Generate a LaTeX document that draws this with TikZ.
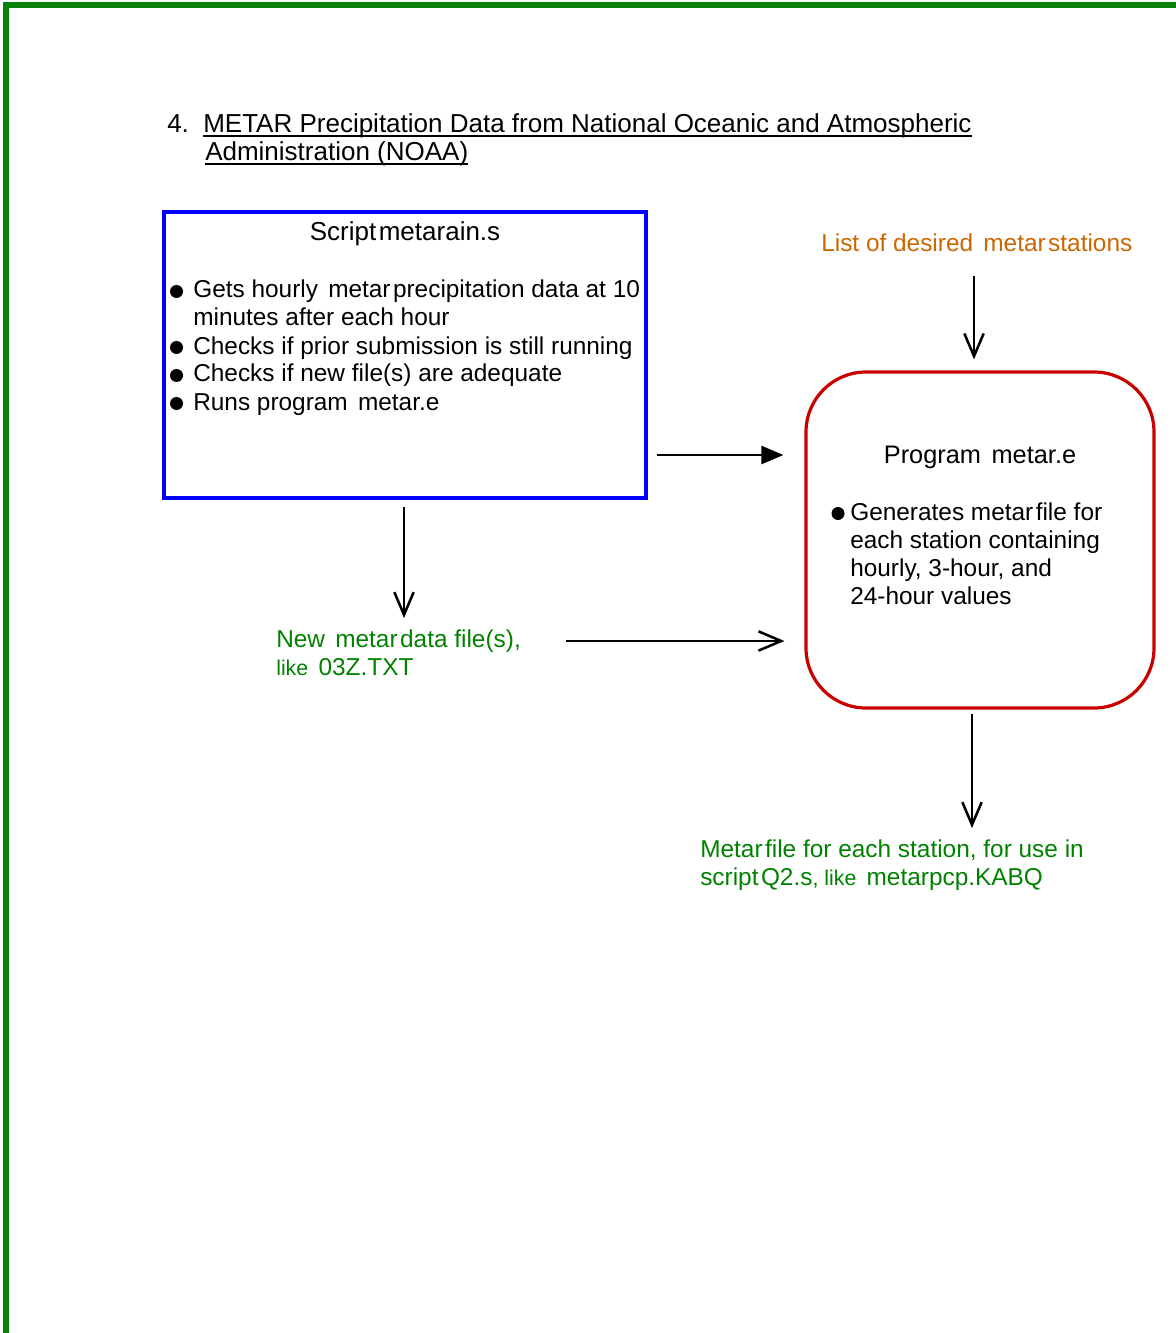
\documentclass[tikz,border=0pt]{standalone}
\usepackage{fontspec}
\setmainfont{Liberation Sans}
\usetikzlibrary{arrows.meta,calc}
\definecolor{framegreen}{RGB}{10,128,10}
\definecolor{txtgreen}{RGB}{0,130,0}
\definecolor{boxblue}{RGB}{0,0,255}
\definecolor{boxred}{RGB}{200,0,0}
\definecolor{listorange}{RGB}{204,102,0}
\newcommand{\tsp}{\hspace{0.1em}}
\newcommand{\wsp}{\hspace{0.42em}}
\begin{document}
\begin{tikzpicture}[x=0.75pt,y=-0.75pt,
  txt/.style={inner sep=0pt, anchor=base west, font=\fontsize{18.3pt}{21pt}\selectfont},
  ttl/.style={inner sep=0pt, anchor=base west, font=\fontsize{19.5pt}{21pt}\selectfont},
  gtxt/.style={txt, text=txtgreen},
  bul/.style={fill=black},
  uline/.style={line width=0.9pt},
  fatarrow/.style={line width=1.9pt, -{Triangle[length=16.5pt,width=13.5pt]}},
  openarrow/.style={line width=1.9pt, -{Straight Barb[length=17pt,width=14.5pt,line width=1.9pt]}},
  scriptbox/.style={draw=boxblue, line width=2.5pt, minimum width=361.5pt, minimum height=214.5pt, inner sep=0pt},
  progbox/.style={draw=boxred, line width=2.4pt, rounded corners=45pt, minimum width=261pt, minimum height=252pt, inner sep=0pt}]
\useasboundingbox (0,0) rectangle (1175,1333);
\fill[white] (0,0) rectangle (1175,1333);
% frame
\draw[framegreen, line width=4.6pt] (6,1345) -- (6,5) -- (1190,5);
% title
\node[ttl] (num) at (167,133) {4.};
\node[ttl] (t1) at (203,133) {METAR Precipitation Data from National Oceanic and Atmospheric};
\node[ttl] (t2) at (205,161) {Administration (NOAA)};
\draw[uline] ($(t1.base west)+(0,3)$) -- ($(t1.base east)+(0,3)$);
\draw[uline] ($(t2.base west)+(0,3)$) -- ($(t2.base east)+(0,3)$);
% script box
\node[scriptbox] (script) at (405,355) {};
\node[txt, anchor=base, font=\fontsize{19.5pt}{21pt}\selectfont] (stitle) at (405,241) {Script\tsp metarain.s};
\node[txt] (s1) at (193,298) {Gets hourly\wsp metar\tsp precipitation data at 10};
\node[txt] (s2) at (193,326) {minutes after each hour};
\node[txt] (s3) at (193,354) {Checks if prior submission is still running};
\node[txt] (s4) at (193,382) {Checks if new file(s) are adequate};
\node[txt] (s5) at (193,410) {Runs program\wsp metar.e};
\foreach \yy in {298,354,382,410} \fill[bul] (176.5,\yy-6.5) circle (6.5);
% program box
\node[progbox] (metar) at (980,540) {};
\node[txt, anchor=base, font=\fontsize{19pt}{21pt}\selectfont] (ptitle) at (980,463) {Program\wsp metar.e};
\node[txt] (p1) at (850,520) {Generates metar\tsp file for};
\node[txt] (p2) at (850,548) {each station containing};
\node[txt] (p3) at (850,576) {hourly, 3-hour, and};
\node[txt] (p4) at (850,604) {24-hour values};
\fill[bul] (838,513.5) circle (6.5);
% list
\node[txt, text=listorange] (list) at (821,252) {List of desired\wsp metar\tsp stations};
% new files
\node[gtxt] (nf1) at (276,647) {New\wsp metar\tsp data file(s),};
\node[gtxt] (nf2) at (276,675) {{\fontsize{16pt}{21pt}\selectfont like}\wsp 03Z.TXT};
% metar file output
\node[gtxt] (mf1) at (700,857) {Metar\tsp file for each station, for use in};
\node[gtxt] (mf2) at (700,885) {script\tsp Q2.s{\fontsize{16pt}{21pt}\selectfont, like}\wsp metarpcp.KABQ};
% connectors
\draw[fatarrow] ($(script.east)+(9,100)$) -- ($(metar.west)+(-21,-85)$);
\draw[openarrow] ($(metar.north |- list.south)+(-6,23)$) -- ($(metar.north)+(-6,-11)$);
\draw[openarrow] ($(script.south)+(-1,7)$) -- ($(script.south |- nf1.north)+(-1,-11)$);
\draw[openarrow] ($(nf1.base east)+(45,-6)$) -- ($(metar.west |- nf1.base east)+(-20,-6)$);
\draw[openarrow] ($(metar.south)+(-8,4)$) -- ($(metar.south |- mf1.north)+(-8,-11)$);
\end{tikzpicture}
\end{document}
